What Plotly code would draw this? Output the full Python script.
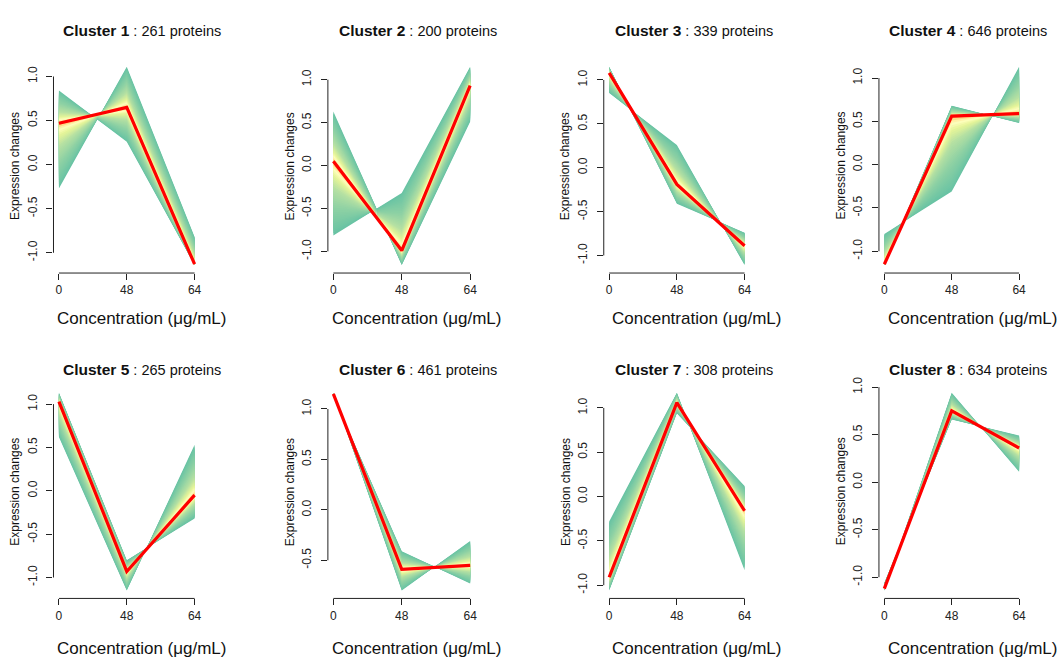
import plotly.graph_objects as go
from plotly.colors import sample_colorscale

# ---------------- data ----------------
conc_labels = ["0", "48", "64"]
cluster_ids = [1, 2, 3, 4, 5, 6, 7, 8]
protein_counts = [261, 200, 339, 646, 265, 461, 308, 634]

# cluster centre (red line) at 0, 48, 64 ug/mL
centroids = [
    [0.47, 0.65, -1.13],
    [0.05, -0.99, 0.93],
    [1.08, -0.19, -0.89],
    [-1.15, 0.56, 0.59],
    [1.03, -0.93, -0.05],
    [1.15, -0.59, -0.55],
    [-0.91, 1.06, -0.16],
    [-1.12, 0.75, 0.36],
]
# the two extreme member profiles bounding each cluster's bundle
edge_a = [
    [-0.27, 1.11, -0.82],
    [0.63, -1.16, 0.51],
    [1.15, -0.41, -0.74],
    [-1.16, 0.68, 0.48],
    [0.62, -1.15, 0.53],
    [1.16, -0.80, -0.31],
    [-0.28, 1.17, -0.83],
    [-1.14, 0.94, 0.11],
]
edge_b = [
    [0.84, 0.26, -1.14],
    [-0.815, -0.32, 1.15],
    [0.85, 0.26, -1.11],
    [-0.80, -0.31, 1.13],
    [1.13, -0.80, -0.32],
    [1.13, -0.41, -0.73],
    [-1.06, 0.94, 0.12],
    [-1.06, 0.66, 0.49],
]
y_tick_values = [-1.0, -0.5, 0.0, 0.5, 1.0]

# ---------------- styling ----------------
W, H = 1062, 657
FONT = "Liberation Sans, Arial, Helvetica, sans-serif"
col_px = [(53.6, 200.4), (328.5, 476.5), (604.9, 751.4), (880.6, 1026.4)]
row_px = [(51.5, 268.3), (381.6, 597.7)]
title_cx = [142.5, 419.0, 695.0, 969.5]
title_cy = [23.0, 366.0]
xtitle_cx = [141.5, 417.5, 698.0, 974.0]
xtitle_cy = [314.0, 648.0]

membership_scale = [
    [0.0, "#f98e52"],
    [0.03, "#fdb265"],
    [0.06, "#fee08b"],
    [0.11, "#ffffbf"],
    [0.2, "#e6f598"],
    [0.38, "#b5e0a3"],
    [0.65, "#8ed1a4"],
    [1.0, "#69c3a4"],
]
n_layers = 32
layer_fracs = [1.0 - i * (0.975 / (n_layers - 1)) for i in range(n_layers)]
layer_cols = sample_colorscale(membership_scale, layer_fracs)

xs = list(range(len(conc_labels)))

fig = go.Figure()
layout = dict(
    width=W, height=H, margin=dict(l=0, r=0, t=0, b=0),
    paper_bgcolor="white", plot_bgcolor="white", showlegend=False,
    font=dict(family=FONT, color="#222"),
)
annotations = []
shapes = []

for i, cid in enumerate(cluster_ids):
    r, c = divmod(i, 4)
    n = i + 1
    xa = "x" if n == 1 else f"x{n}"
    ya = "y" if n == 1 else f"y{n}"
    cen, A, B = centroids[i], edge_a[i], edge_b[i]

    # bundle of member profiles, shaded by membership (outer = low)
    for f, colr in zip(layer_fracs, layer_cols):
        ya_k = [cv + f * (av - cv) for av, cv in zip(A, cen)]
        yb_k = [cv + f * (bv - cv) for bv, cv in zip(B, cen)]
        fig.add_trace(go.Scatter(
            x=xs + xs[::-1], y=ya_k + yb_k[::-1],
            fill="toself", fillcolor=colr, mode="lines",
            line=dict(width=0, color=colr), hoverinfo="skip",
            xaxis=xa, yaxis=ya,
        ))
    fig.add_trace(go.Scatter(
        x=xs, y=cen, mode="lines", line=dict(color="#ff0000", width=3.2),
        hoverinfo="skip", xaxis=xa, yaxis=ya,
    ))

    allv = A + B + cen
    lo, hi = min(allv), max(allv)
    pad = 0.04 * (hi - lo)
    yr = [lo - pad, hi + pad]
    tv = [t for t in y_tick_values if yr[0] <= t <= yr[1]]
    tt = [f"{t:.1f}" for t in tv]

    x0p, x1p = col_px[c]
    y0p, y1p = row_px[r]
    axkey = "xaxis" if n == 1 else f"xaxis{n}"
    aykey = "yaxis" if n == 1 else f"yaxis{n}"
    layout[axkey] = dict(
        domain=[x0p / W, x1p / W], anchor=ya, range=[-0.08, len(xs) - 1 + 0.08],
        tickvals=xs, ticktext=conc_labels, ticks="outside", ticklen=6,
        tickcolor="#222", tickwidth=1, showline=False, showgrid=False,
        zeroline=False, tickfont=dict(size=12, family=FONT, color="#222"),
        ticklabelstandoff=0, fixedrange=True,
    )
    layout[aykey] = dict(
        domain=[1 - y1p / H, 1 - y0p / H], anchor=xa, range=yr,
        tickvals=tv, ticktext=tt, ticks="outside", ticklen=6, tickangle=-90,
        tickcolor="#222", tickwidth=1, showline=False, showgrid=False,
        zeroline=False, tickfont=dict(size=12, family=FONT, color="#222"),
        ticklabelstandoff=5, fixedrange=True,
    )
    # R-style axis lines spanning only the tick range
    shapes.append(dict(type="line", xref=xa, yref=f"{ya} domain",
                       x0=xs[0], x1=xs[-1], y0=0, y1=0,
                       line=dict(color="#222", width=1)))
    shapes.append(dict(type="line", xref=f"{xa} domain", yref=ya,
                       x0=0, x1=0, y0=tv[0], y1=tv[-1],
                       line=dict(color="#222", width=1)))

    annotations.append(dict(
        text=f"<span style='font-size:15.5px'><b>Cluster {cid}</b></span> : {protein_counts[i]} proteins",
        x=title_cx[c] / W, y=1 - title_cy[r] / H, xref="paper", yref="paper",
        xanchor="center", yanchor="middle", showarrow=False,
        font=dict(size=14.5, family=FONT, color="#111"),
    ))
    annotations.append(dict(
        text="Expression changes", textangle=-90,
        x=(x0p - 38.5) / W, y=1 - (y0p + y1p) / 2 / H, xref="paper", yref="paper",
        xanchor="center", yanchor="middle", showarrow=False,
        font=dict(size=12, family=FONT, color="#111"),
    ))
    annotations.append(dict(
        text="Concentration (μg/mL)",
        x=xtitle_cx[c] / W, y=1 - xtitle_cy[r] / H, xref="paper", yref="paper",
        xanchor="center", yanchor="middle", showarrow=False,
        font=dict(size=17, family=FONT, color="#111"),
    ))

layout["annotations"] = annotations
layout["shapes"] = shapes
fig.update_layout(**layout)
fig.write_html("out.html")
